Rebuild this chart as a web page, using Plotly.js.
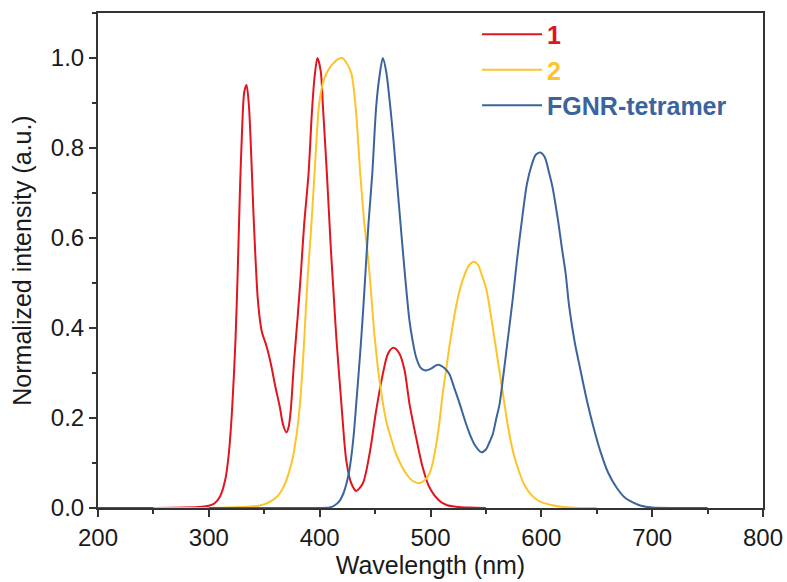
<!DOCTYPE html>
<html>
<head>
<meta charset="utf-8">
<script src="https://cdn.plot.ly/plotly-3.0.1.min.js"></script>
<style>html,body{margin:0;padding:0;background:#fff;}#chart{width:787px;height:582px;}</style>
</head>
<body>
<div id="chart"></div>
<script>
// Series 1 (red)
const wl1 = [200, 250, 290, 300, 305, 310, 315, 318, 321, 324, 326, 328, 330, 332, 334, 336, 338, 340, 342, 344, 346, 348, 352, 356, 360, 364, 367, 370, 372, 374, 377, 380, 383, 386, 390, 393, 395.5, 398, 401, 403, 406.5, 410, 412, 415, 419.6, 424, 428.5, 433, 439, 445, 451, 457, 461.6, 466.5, 472, 476.6, 481, 487, 493, 499, 508, 515, 523, 535, 550];
const int1 = [0, 0, 0.002, 0.005, 0.01, 0.025, 0.065, 0.12, 0.22, 0.37, 0.52, 0.7, 0.84, 0.925, 0.94, 0.9, 0.8, 0.67, 0.56, 0.47, 0.42, 0.39, 0.36, 0.32, 0.27, 0.225, 0.185, 0.168, 0.18, 0.22, 0.33, 0.42, 0.52, 0.63, 0.744, 0.88, 0.96, 1.0, 0.97, 0.89, 0.744, 0.58, 0.5, 0.38, 0.232, 0.106, 0.055, 0.038, 0.055, 0.12, 0.217, 0.298, 0.343, 0.356, 0.343, 0.306, 0.232, 0.157, 0.09, 0.046, 0.016, 0.006, 0.003, 0.001, 0];

// Series 2 (yellow)
const wl2 = [250, 300, 330, 345, 352, 358, 363.6, 368, 372.8, 376, 378.8, 381, 383.4, 385.5, 387.8, 389.4, 392, 395.4, 399.3, 402.9, 406, 409, 413, 417, 420.4, 424, 428.5, 432.4, 436.6, 440, 442, 445, 449.6, 454, 460, 465, 469, 478, 484, 490, 495, 499, 502, 505.3, 508, 511, 514, 517, 520, 523, 527, 531, 535, 539, 543, 546, 550, 555, 560, 565, 570, 575, 580, 585, 590, 595, 600, 610, 620, 635, 650];
const int2 = [0, 0, 0.002, 0.005, 0.01, 0.018, 0.031, 0.05, 0.083, 0.115, 0.157, 0.2, 0.269, 0.35, 0.454, 0.52, 0.61, 0.744, 0.892, 0.944, 0.965, 0.978, 0.99, 0.998, 1.0, 0.99, 0.967, 0.892, 0.744, 0.64, 0.595, 0.52, 0.38, 0.283, 0.194, 0.15, 0.12, 0.076, 0.06, 0.055, 0.062, 0.076, 0.1, 0.143, 0.19, 0.254, 0.305, 0.358, 0.405, 0.447, 0.49, 0.52, 0.54, 0.547, 0.54, 0.52, 0.49, 0.42, 0.34, 0.26, 0.18, 0.12, 0.08, 0.05, 0.032, 0.02, 0.013, 0.006, 0.002, 0, 0];

// FGNR-tetramer (blue)
const wl3 = [300, 350, 400, 408.8, 413, 418, 421, 424, 426.5, 428.5, 431, 433, 435.5, 437.6, 439.5, 441, 444, 447.5, 451, 454, 457, 460, 463.7, 466.5, 469.1, 473, 476.6, 481, 484, 487, 491, 494.7, 498, 502, 505, 508, 512, 517, 521, 526.3, 531, 535.3, 540, 545.8, 550, 553, 556.3, 559, 562.4, 566, 570, 574, 578, 583, 587, 591, 595, 599, 603, 607, 610, 615, 619, 622, 625, 630, 635, 641, 647, 653, 660, 668, 675, 683, 690, 700, 720, 750];
const int3 = [0, 0, 0, 0.001, 0.005, 0.016, 0.03, 0.053, 0.08, 0.113, 0.17, 0.232, 0.31, 0.38, 0.45, 0.51, 0.63, 0.744, 0.892, 0.96, 1.0, 0.97, 0.892, 0.82, 0.744, 0.63, 0.528, 0.417, 0.37, 0.335, 0.312, 0.306, 0.307, 0.312, 0.317, 0.318, 0.312, 0.298, 0.27, 0.232, 0.195, 0.165, 0.14, 0.124, 0.13, 0.145, 0.165, 0.195, 0.232, 0.3, 0.38, 0.46, 0.55, 0.65, 0.72, 0.76, 0.785, 0.79, 0.78, 0.745, 0.714, 0.64, 0.57, 0.52, 0.45, 0.37, 0.31, 0.24, 0.18, 0.128, 0.08, 0.045, 0.024, 0.012, 0.005, 0.001, 0, 0];

const seriesNames = ['1', '2', 'FGNR-tetramer'];
const seriesColors = ['#E2141E', '#FDC42A', '#3B649E'];
const xTickVals = [200, 300, 400, 500, 600, 700, 800];
const yTickVals = [0.0, 0.2, 0.4, 0.6, 0.8, 1.0];
const xTitle = 'Wavelength (nm)';
const yTitle = 'Normalized intensity (a.u.)';

const xs = [wl1, wl2, wl3];
const ys = [int1, int2, int3];
const traces = xs.map((x, i) => ({
  x: x, y: ys[i], type: 'scatter', mode: 'lines',
  name: '<span style="color:' + seriesColors[i] + '"><b>' + seriesNames[i] + '</b></span>',
  line: {color: seriesColors[i], width: 2, shape: 'spline', smoothing: 0.8}
}));

const font = 'Liberation Sans, Arial, sans-serif';
const axisCommon = {
  showgrid: false, zeroline: false, showline: true, mirror: true,
  linecolor: '#333', linewidth: 2,
  ticks: 'outside', ticklen: 7, tickwidth: 2, tickcolor: '#333',
  tickfont: {family: font, size: 24, color: '#1a1a1a'}
};

const layout = {
  width: 787, height: 582,
  margin: {l: 98, r: 24, t: 13, b: 74},
  paper_bgcolor: '#fff', plot_bgcolor: '#fff',
  showlegend: true,
  legend: {x: 0.57, y: 1.003, xanchor: 'left', yanchor: 'top', bgcolor: 'rgba(0,0,0,0)',
           font: {family: font, size: 25}, itemwidth: 60, tracegroupgap: 0},
  xaxis: Object.assign({}, axisCommon, {
    range: [200, 800], tickvals: xTickVals, ticktext: xTickVals.map(String),
    minor: {dtick: 50, tick0: 0, ticks: 'outside', ticklen: 4, tickwidth: 2, tickcolor: '#333'},
    title: {text: xTitle, font: {family: font, size: 25, color: '#1a1a1a'}, standoff: 6}
  }),
  yaxis: Object.assign({}, axisCommon, {
    range: [0, 1.1], tickvals: yTickVals, ticktext: yTickVals.map(v => v.toFixed(1)),
    minor: {dtick: 0.1, tick0: 0, ticks: 'outside', ticklen: 4, tickwidth: 2, tickcolor: '#333'},
    title: {text: yTitle, font: {family: font, size: 25, color: '#1a1a1a'}, standoff: 12}
  })
};

Plotly.newPlot('chart', traces, layout, {displayModeBar: false, staticPlot: true});
</script>
</body>
</html>
